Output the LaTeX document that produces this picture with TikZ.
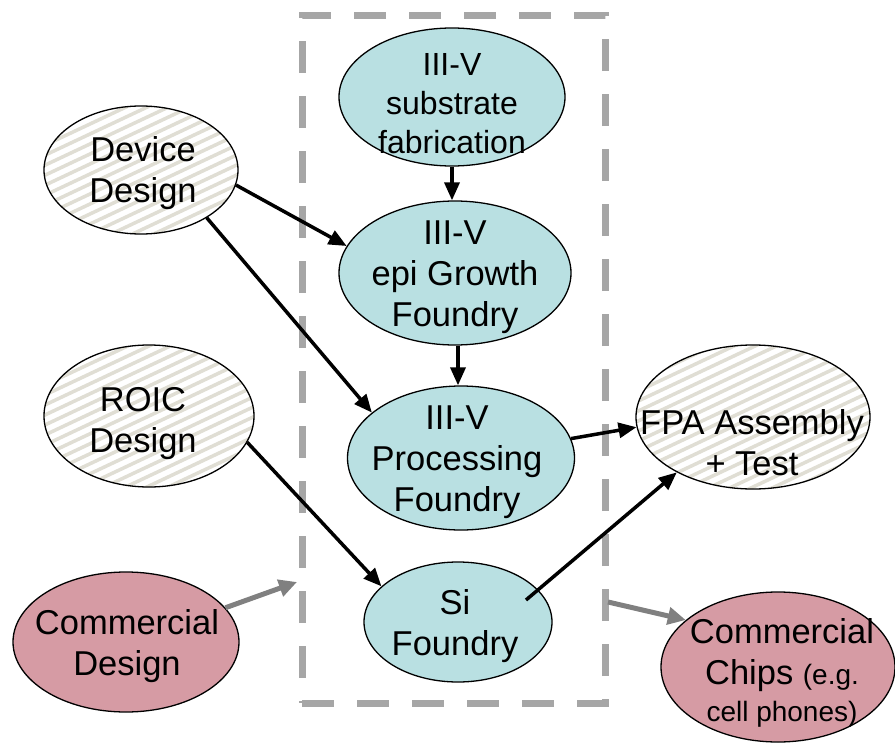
\documentclass[tikz,border=0pt]{standalone}
\usepackage{fontspec}
\setmainfont{Liberation Sans}
\usetikzlibrary{shapes.geometric,arrows.meta,calc}
\definecolor{cyanfill}{RGB}{185,224,226}
\definecolor{pinkfill}{RGB}{214,155,164}
\definecolor{stripecol}{RGB}{224,222,212}
\definecolor{boxgray}{RGB}{166,166,166}
\definecolor{arrgray}{RGB}{128,128,128}
\begin{document}
\begin{tikzpicture}[x=1pt,y=-1pt,
 ell/.style={ellipse, draw=black, line width=1.3pt, inner sep=0pt},
 cyanell/.style={ell, fill=cyanfill},
 pinkell/.style={ell, fill=pinkfill},
 hatchell/.style={ell, fill=white, path picture={
   \foreach \k in {-26,...,26}{
     \draw[stripecol, line width=3.5pt]
       ($(path picture bounding box.center)+(-170,\k*10+80)$) -- ++(340,-160);}}},
 lbl/.style={align=center, font=\fontsize{34.5}{41}\selectfont, inner sep=0pt},
 blk/.style={-{Triangle[length=18pt,width=15pt]}, line width=3.5pt, black},
 gry/.style={-{Triangle[length=18pt,width=17pt]}, line width=5pt, arrgray},
 dbox/.style={draw=boxgray, line width=7pt, dash pattern=on 32pt off 23pt, inner sep=0pt},
]
\useasboundingbox (0,0) rectangle (895,744);

% dashed foundry box
\node[dbox, minimum width=303pt, minimum height=688pt] (box) at (453.5,359) {};

% ellipses
\node[cyanell, minimum width=226pt, minimum height=138pt] (sub) at (452,97) {};
\node[cyanell, minimum width=232pt, minimum height=144pt] (epi) at (455,273) {};
\node[cyanell, minimum width=227pt, minimum height=144pt] (proc) at (461,458) {};
\node[cyanell, minimum width=188pt, minimum height=120pt] (si) at (458,622) {};
\node[hatchell, minimum width=194pt, minimum height=128pt] (dev) at (141,170) {};
\node[hatchell, minimum width=210pt, minimum height=142pt] (roic) at (149,416) {};
\node[hatchell, minimum width=234pt, minimum height=144pt] (fpa) at (753,417) {};
\node[pinkell, minimum width=226pt, minimum height=140pt] (cd) at (126,642) {};
\node[pinkell, minimum width=234pt, minimum height=150pt] (chips) at (778,667) {};

% labels
\node[lbl, font=\fontsize{32}{39}\selectfont] (subt) at (452,104) {III-V\\substrate\\fabrication};
\node[lbl] (epit) at (455,277) {III-V\\epi Growth\\Foundry};
\node[lbl] (proct) at (457,462) {III-V\\Processing\\Foundry};
\node[lbl] (sit) at (455,626) {Si\\Foundry};
\node[lbl] (devt) at (143,173) {Device\\Design};
\node[lbl] (roict) at (143,424) {ROIC\\Design};
\node[lbl] (fpat) at (752,443) {FPA Assembly\\+ Test};
\node[lbl] (cdt) at (127,646) {Commercial\\Design};
\node[lbl] (chipst) at (782,673) {Commercial\\Chips {\fontsize{28}{30}\selectfont(e.g.}\\[-4pt]{\fontsize{28}{30}\selectfont cell phones)}};

% coordinates for free ends
\coordinate (sistart) at ($(si.center)+(68,-22)$);
\coordinate (boxin) at (297,582);
\coordinate (boxout) at (608,602);

% black arrows
\draw[blk] (sub.south) -- (sub.south |- epi.north);
\draw[blk] ([xshift=3pt]epi.south) -- ([xshift=-3pt]proc.north);
\draw[blk] (dev.-9) -- (epi.166.5);
\draw[blk] (dev.-36) -- (proc.153.7);
\draw[blk] (roic.-15.4) -- (si.155.8);
\draw[blk] (proc.10) -- (fpa.-175);
\draw[blk] (sistart) -- (fpa.-144.1);

% gray arrows
\draw[gry] (cd.19) -- (boxin);
\draw[gry] (boxout) -- (chips.153.4);
\end{tikzpicture}
\end{document}
